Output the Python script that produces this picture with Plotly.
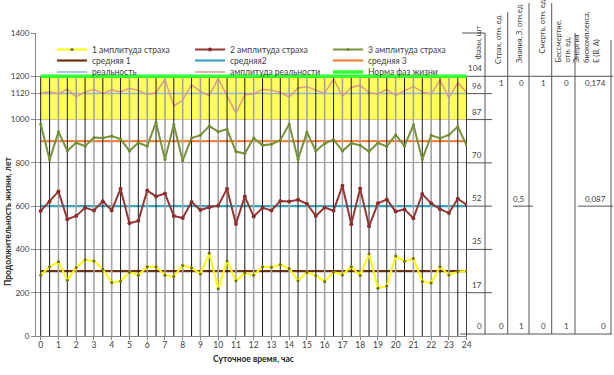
import plotly.graph_objects as go

# ---------------- data ----------------
hours = [0, 0.5, 1, 1.5, 2, 2.5, 3, 3.5, 4, 4.5, 5, 5.5, 6, 6.5, 7, 7.5, 8, 8.5,
         9, 9.5, 10, 10.5, 11, 11.5, 12, 12.5, 13, 13.5, 14, 14.5, 15, 15.5, 16,
         16.5, 17, 17.5, 18, 18.5, 19, 19.5, 20, 20.5, 21, 21.5, 22, 22.5, 23,
         23.5, 24]
hour_ticks = [0, 1, 2, 3, 4, 5, 6, 7, 8, 9, 10, 11, 12, 13, 14, 15, 16, 17, 18,
              19, 20, 21, 22, 23, 24]
hour_labels = ['0', '1', '2', '3', '4', '5', '6', '7', '8', '9', '10', '11', '12',
               '13', '14', '15', '16', '17', '18', '19', '20', '21', '22', '23', '24']

fear1 = [281, 320, 343, 258, 317, 351, 347, 308, 247, 253, 295, 281, 320, 320, 281,
         275, 326, 315, 287, 382, 218, 347, 255, 291, 281, 320, 318, 330, 312, 255,
         295, 279, 252, 296, 282, 320, 279, 379, 221, 231, 370, 345, 358, 252, 245,
         320, 282, 297, 300]
fear2 = [578, 621, 668, 540, 555, 592, 580, 623, 580, 680, 521, 532, 672, 645, 658,
         555, 545, 619, 582, 595, 602, 680, 518, 645, 552, 592, 580, 624, 621, 629,
         611, 555, 594, 579, 694, 516, 681, 507, 613, 631, 575, 585, 544, 656, 613,
         586, 568, 634, 607]
fear3 = [978, 814, 944, 856, 893, 877, 917, 915, 924, 910, 855, 893, 877, 988, 815,
         977, 810, 915, 928, 970, 944, 955, 852, 843, 915, 881, 886, 905, 979, 816,
         942, 855, 889, 908, 855, 891, 881, 853, 892, 876, 929, 878, 976, 816, 927,
         914, 929, 967, 881]
reality_amp = [1120, 1130, 1118, 1140, 1105, 1128, 1140, 1120, 1138, 1128, 1145,
               1135, 1115, 1125, 1185, 1062, 1090, 1160, 1130, 1110, 1190, 1108,
               1030, 1115, 1118, 1140, 1136, 1125, 1104, 1146, 1152, 1136, 1122,
               1188, 1108, 1148, 1158, 1124, 1118, 1140, 1112, 1134, 1152, 1128,
               1118, 1182, 1100, 1170, 1125]

mean1_level = 300
mean2_level = 600
mean3_level = 900
reality_level = 1120
norm_level = 1200
band_low = 1000
band_high = 1200

y_ticks = [0, 200, 400, 600, 800, 1000, 1120, 1200, 1400]
y_labels = ['0', '200', '400', '600', '800', '1000', '1120', '1200', '1400']
phase_vals = [0, 200, 400, 600, 800, 1000, 1120, 1200]
phase_labels = ['0', '17', '35', '52', '70', '87', '96', '104']

table_headers = ['Страх, отн. ед', 'Знания, З, отн.ед', 'Смерть, отн. ед',
                 'Бессмертие,<br>отн. ед.', 'Энергия<br>биокомплекса,<br>Е (В, А)']
table_top = ['1', '0', '1', '0', '0,174']
table_mid = ['', '0,5', '', '', '0,087']
table_bottom = ['0', '1', '0', '1', '0']

# ---------------- layout constants ----------------
W, H = 614, 375
ML, MR, MT, MB = 36, 147, 33, 39
PW = W - ML - MR
PH = H - MT - MB
YMAX = 1400
FONT = "Lato, Carlito, 'Liberation Sans', sans-serif"
TXT = '#404040'


def px(xp):
    return (xp - ML) / PW


def py(yp):
    return (H - MB - yp) / PH


fig = go.Figure()

# yellow band
fig.add_trace(go.Scatter(x=[hours[0], hours[-1], hours[-1], hours[0], hours[0]],
                         y=[band_low, band_low, band_high, band_high, band_low],
                         fill='toself', fillcolor='#ffff5c', mode='lines',
                         line=dict(width=0), showlegend=False, hoverinfo='skip'))

# reality level & amplitude (inside band)
fig.add_trace(go.Scatter(x=hours, y=[reality_level] * len(hours), mode='lines',
                         line=dict(color='#95b3d7', width=1.5), name='реальность',
                         legend='legend3', legendrank=1))
fig.add_trace(go.Scatter(x=hours, y=reality_amp, mode='lines',
                         line=dict(color='#e0998a', width=1.5), name='амплитуда реальности',
                         legend='legend3', legendrank=2))

# mean lines
fig.add_trace(go.Scatter(x=hours, y=[mean1_level] * len(hours), mode='lines',
                         line=dict(color='#6e3410', width=2.2), name='средняя 1',
                         legend='legend2', legendrank=1))
fig.add_trace(go.Scatter(x=hours, y=[mean2_level] * len(hours), mode='lines',
                         line=dict(color='#3aa3c4', width=2.2), name='средняя2',
                         legend='legend2', legendrank=2))
fig.add_trace(go.Scatter(x=hours, y=[mean3_level] * len(hours), mode='lines',
                         line=dict(color='#f5823a', width=2.2), name='средняя 3',
                         legend='legend2', legendrank=3))

# vertical lines (gray at whole hours, black otherwise)
vxg, vyg, vxb, vyb = [], [], [], []
for h in hours:
    if h == int(h) and hours[0] < h < hours[-1]:
        vxg += [h, h, None]
        vyg += [0, norm_level, None]
    else:
        vxb += [h, h, None]
        vyb += [0, norm_level, None]
fig.add_trace(go.Scatter(x=vxg, y=vyg, mode='lines', line=dict(color='#a3a3a3', width=1.6),
                         showlegend=False, hoverinfo='skip'))
fig.add_trace(go.Scatter(x=vxb, y=vyb, mode='lines', line=dict(color='#1a1a1a', width=1),
                         showlegend=False, hoverinfo='skip'))

# fear amplitudes
fig.add_trace(go.Scatter(x=hours, y=fear1, mode='lines+markers',
                         line=dict(color='#ffff00', width=2),
                         marker=dict(color='#6b6b10', size=3),
                         name='1 амплитуда страха', legend='legend', legendrank=1))
fig.add_trace(go.Scatter(x=hours, y=fear2, mode='lines+markers',
                         line=dict(color='#953735', width=2),
                         marker=dict(color='#8a2f2d', size=4),
                         name='2 амплитуда страха', legend='legend', legendrank=2))
fig.add_trace(go.Scatter(x=hours, y=fear3, mode='lines+markers',
                         line=dict(color='#77933c', width=2),
                         marker=dict(color='#6b8a30', size=3),
                         name='3 амплитуда страха', legend='legend', legendrank=3))

# norm line
fig.add_trace(go.Scatter(x=hours, y=[norm_level] * len(hours), mode='lines',
                         line=dict(color='#33ff33', width=3.5), name='Норма фаз жизни',
                         legend='legend3', legendrank=3))

# ---------------- legends (3 rows) ----------------
def leg(yp):
    return dict(orientation='h', x=px(52), xanchor='left', y=py(yp), yanchor='middle',
                entrywidth=93, entrywidthmode='pixels', itemwidth=30,
                font=dict(size=8.5, family=FONT, color=TXT),
                bgcolor='rgba(0,0,0,0)', borderwidth=0, traceorder='normal')


# ---------------- table on the right ----------------
shapes = []
annotations = []
line_style = dict(color='#555555', width=1)
col_edges = [467, 485, 507.7, 529, 551.7, 575, 611]
col_tops = [33, 33, 12, 3, 3, 33, 40]

# column vertical lines
for e, t in zip(col_edges[1:], col_tops[1:]):
    shapes.append(dict(type='line', xref='paper', yref='paper', x0=px(e), x1=px(e),
                       y0=py(t), y1=py(334), line=line_style))
# top of phase column
shapes.append(dict(type='line', xref='paper', yref='paper', x0=px(462), x1=px(485),
                   y0=1, y1=1, line=line_style))
# bottom line
shapes.append(dict(type='line', xref='paper', yref='paper', x0=px(460), x1=px(612),
                   y0=py(334), y1=py(334), line=line_style))
# 1200 line across table
shapes.append(dict(type='line', xref='paper', yref='y', x0=px(467), x1=px(613),
                   y0=norm_level, y1=norm_level, line=line_style))
# phase ticks
for v in phase_vals[1:-1]:
    shapes.append(dict(type='line', xref='paper', yref='y', x0=px(467), x1=px(492),
                       y0=v, y1=v, line=line_style))
# mid ticks for knowledge and energy
shapes.append(dict(type='line', xref='paper', yref='y', x0=px(513), x1=px(533),
                   y0=mean2_level, y1=mean2_level, line=line_style))
shapes.append(dict(type='line', xref='paper', yref='y', x0=px(578), x1=px(613),
                   y0=mean2_level, y1=mean2_level, line=line_style))

small = dict(size=8, family=FONT, color=TXT)
hdr_font = dict(size=7.5, family=FONT, color=TXT)
# phase labels
for v, lab in zip(phase_vals, phase_labels):
    annotations.append(dict(xref='paper', yref='y', x=px(483.5), y=v, text=lab,
                            xanchor='right', yanchor='bottom', showarrow=False,
                            yshift=3 if v == 0 else 1, font=small))

label_right = [505.5, 525.5, 548, 570.5, 608]
for xr, t, m, b in zip(label_right, table_top, table_mid, table_bottom):
    annotations.append(dict(xref='paper', yref='y', x=px(xr), y=norm_level, text=t,
                            xanchor='right', yanchor='top', showarrow=False, font=small))
    if m:
        annotations.append(dict(xref='paper', yref='y', x=px(xr), y=mean2_level, text=m,
                                xanchor='right', yanchor='bottom', showarrow=False,
                                font=small))
    annotations.append(dict(xref='paper', yref='y', x=px(xr), y=0, text=b,
                            xanchor='right', yanchor='bottom', showarrow=False,
                            yshift=3, font=small))

# headers (rotated)
annotations.append(dict(xref='paper', yref='paper', x=px(477.5), y=py(61), text='Фазы, шт',
                        textangle=-90, xanchor='center', yanchor='bottom', showarrow=False,
                        font=small))
hdr_x = [498.5, 519.5, 541.5, 563, 587]
hdr_bottom = [66, 65, 56, 65, 65]
for xh, yb, t in zip(hdr_x, hdr_bottom, table_headers):
    annotations.append(dict(xref='paper', yref='paper', x=px(xh), y=py(yb), text=t,
                            textangle=-90, xanchor='center', yanchor='bottom',
                            align='left', showarrow=False, font=hdr_font))

# axis titles
annotations.append(dict(xref='paper', yref='paper', x=px(8), y=py(222),
                        text='<b>Продолжительность жизни, лет</b>', textangle=-90,
                        xanchor='center', yanchor='middle', showarrow=False,
                        font=dict(size=8.5, family=FONT, color='#262626')))
annotations.append(dict(xref='paper', yref='paper', x=px(253), y=py(359),
                        text='<b>Суточное время, час</b>',
                        xanchor='center', yanchor='middle', showarrow=False,
                        font=dict(size=8.5, family=FONT, color='#262626')))

fig.update_layout(
    width=W, height=H,
    margin=dict(l=ML, r=MR, t=MT, b=MB),
    paper_bgcolor='white', plot_bgcolor='white',
    font=dict(family=FONT, size=8.5, color=TXT),
    legend=leg(49.5), legend2=leg(60.5), legend3=leg(72),
    shapes=shapes, annotations=annotations,
    xaxis=dict(range=[-0.265, 24.02], tickvals=hour_ticks, ticktext=hour_labels,
               showgrid=False, zeroline=False, showline=True, linecolor='#868686',
               ticks='outside', ticklen=3, tickcolor='#868686', ticklabelstandoff=-2,
               tickfont=dict(size=8.5, family=FONT, color=TXT)),
    yaxis=dict(range=[0, YMAX], tickvals=y_ticks, ticktext=y_labels,
               showgrid=True, gridcolor='#9a9a9a', gridwidth=1, zeroline=False,
               showline=True, linecolor='#868686', ticks='outside', ticklen=4,
               tickcolor='#868686', tickfont=dict(size=8, family=FONT, color=TXT)),
    showlegend=True,
)

fig.write_html("out.html", config={'displayModeBar': False, 'staticPlot': True},
               post_script="document.body.style.margin='0';"
                           "document.body.style.padding='0';"
                           "document.body.style.overflow='hidden';")
